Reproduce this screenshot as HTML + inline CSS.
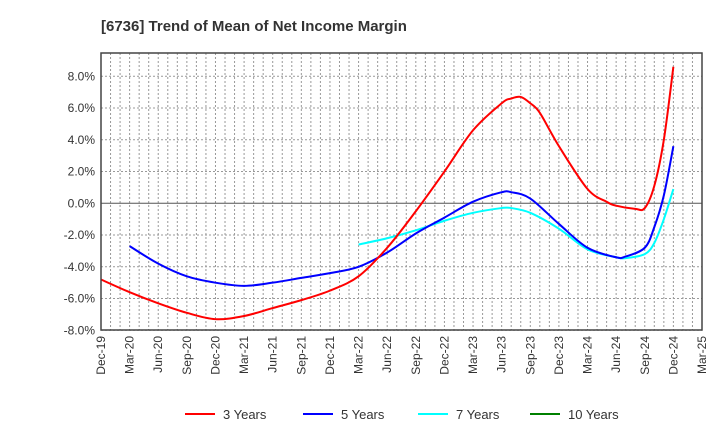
<!DOCTYPE html>
<html><head><meta charset="utf-8"><style>body{margin:0;background:#fff}svg{font-family:"Liberation Sans",sans-serif}</style></head>
<body>
<svg id="c" width="720" height="440">
<text x="101" y="31" font-size="15" font-weight="bold" fill="#333">[6736]  Trend of Mean of Net Income Margin</text>
<g id="grid"></g><g id="series"></g><g id="axes"></g><g id="legend"></g>
</svg>
<script>
const xTicks=["Dec-19","Mar-20","Jun-20","Sep-20","Dec-20","Mar-21","Jun-21","Sep-21","Dec-21","Mar-22","Jun-22","Sep-22","Dec-22","Mar-23","Jun-23","Sep-23","Dec-23","Mar-24","Jun-24","Sep-24","Dec-24","Mar-25"];
const yTicks=[8,6,4,2,0,-2,-4,-6,-8];
const m3=[0,3,6,9,12,15,18,21,24,27,30,33,36,39,42,43,44,45,46,48,51,53,54,56,57,58,59,60];
const v3=[-4.8,-5.6,-6.3,-6.9,-7.3,-7.1,-6.6,-6.1,-5.5,-4.6,-2.8,-0.5,2.0,4.6,6.3,6.6,6.7,6.3,5.7,3.6,0.9,0.1,-0.15,-0.35,-0.3,1.1,4.0,8.6];
const m5=[3,6,9,12,15,18,21,24,27,30,33,36,39,42,43,45,48,51,54,55,57,58,59,60];
const v5=[-2.7,-3.8,-4.6,-5.0,-5.2,-5.0,-4.7,-4.4,-4.0,-3.1,-1.9,-0.9,0.1,0.7,0.7,0.3,-1.3,-2.8,-3.4,-3.35,-2.8,-1.5,0.5,3.6];
const m7=[27,30,33,36,39,42,43,45,48,51,54,55,57,58,59,60];
const v7=[-2.6,-2.2,-1.7,-1.1,-0.6,-0.3,-0.3,-0.6,-1.6,-2.9,-3.4,-3.45,-3.2,-2.5,-1.0,0.9];
const L=101,R=702,T=53,B=330;
const X=m=>L+m*(R-L)/63, Y=v=>203.3-v*15.875;
const NS="http://www.w3.org/2000/svg";
function mk(p,t,a){const e=document.createElementNS(NS,t);for(const k in a)e.setAttribute(k,a[k]);p.appendChild(e);return e;}
const grid=document.getElementById('grid'),axes=document.getElementById('axes'),ser=document.getElementById('series'),leg=document.getElementById('legend');
for(let m=1;m<63;m++){const g=mk(grid,'line',{x1:X(m),x2:X(m),y1:T,y2:B,stroke:'#999','stroke-dasharray':'2,2','stroke-width':1});

}
yTicks.forEach(v=>{const g=mk(grid,'line',{x1:L,x2:R,y1:Y(v),y2:Y(v),stroke:v==0?'#555':'#999','stroke-dasharray':v==0?'':'2,2','stroke-width':1});


const t=mk(axes,'text',{x:L-6,y:Y(v)+4,'text-anchor':'end','font-size':12,fill:'#333'});t.textContent=v.toFixed(1)+'%';

});
const fr=mk(axes,'rect',{x:L,y:T,width:R-L,height:B-T,fill:'none',stroke:'#444','stroke-width':1.5});


xTicks.forEach((s,i)=>{const x=X(i*3);const t=mk(axes,'text',{x:0,y:0,'text-anchor':'end','font-size':12,fill:'#333',transform:`translate(${x+4},336) rotate(-90)`});t.textContent=s;

});
function path(ms,vs){const p=ms.map((m,i)=>[X(m),Y(vs[i])]);let d=`M${p[0][0]},${p[0][1]}`;
for(let i=0;i<p.length-1;i++){const p0=p[i-1]||p[i],p1=p[i],p2=p[i+1],p3=p[i+2]||p2;
d+=` C${p1[0]+(p2[0]-p0[0])/6},${p1[1]+(p2[1]-p0[1])/6} ${p2[0]-(p3[0]-p1[0])/6},${p2[1]-(p3[1]-p1[1])/6} ${p2[0]},${p2[1]}`;}return d;}
[[m7,v7,'#00ffff','series-7-years'],[m5,v5,'#0000ff','series-5-years'],[m3,v3,'#ff0000','series-3-years']].forEach(s=>{
const e=mk(ser,'path',{d:path(s[0],s[1]),fill:'none',stroke:s[2],'stroke-width':2});

});
[['3 Years','#ff0000',185],['5 Years','#0000ff',303],['7 Years','#00ffff',418],['10 Years','#008000',530]].forEach(l=>{
const g=mk(leg,'g',{});


mk(g,'line',{x1:l[2],x2:l[2]+30,y1:414,y2:414,stroke:l[1],'stroke-width':2});
const t=mk(g,'text',{x:l[2]+38,y:419,'font-size':13,fill:'#333'});t.textContent=l[0];});
</script>
</body></html>
